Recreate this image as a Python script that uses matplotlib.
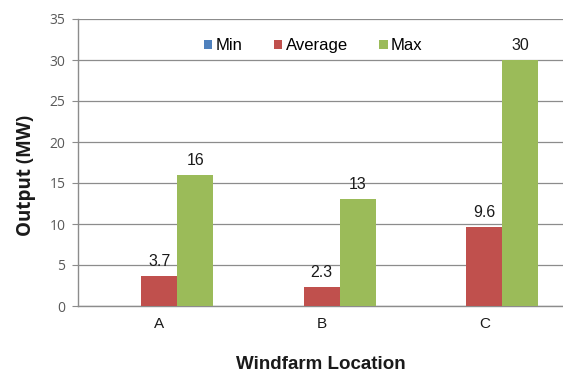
import matplotlib
matplotlib.use("Agg")
import matplotlib.pyplot as plt
import numpy as np

locations = ["A", "B", "C"]
series_names = ["Min", "Average", "Max"]
min_mw = [0, 0, 0]
avg_mw = [3.7, 2.3, 9.6]
max_mw = [16, 13, 30]
y_ticks = [0, 5, 10, 15, 20, 25, 30, 35]

colors = ["#4F81BD", "#C0504D", "#9BBB59"]
grid_color = "#8c8c8c"
tick_color = "#595959"

fig = plt.figure(figsize=(5.63, 3.72), dpi=100)
ax = fig.add_axes([78 / 563, (372 - 306) / 372, 1 - 78 / 563, (306 - 19) / 372])

x = np.arange(len(locations))
bar_w = 36 / 162.5
offsets = [-bar_w, 0, bar_w]
data = [min_mw, avg_mw, max_mw]

for vals, off, col, name in zip(data, offsets, colors, series_names):
    bars = ax.bar(x + off, vals, bar_w, color=col, label=name, zorder=3)
    for b, v in zip(bars, vals):
        if v > 0:
            ax.annotate(f"{v:g}", (b.get_x() + b.get_width() / 2, v),
                        xytext=(0, 5), textcoords="offset points",
                        ha="center", va="bottom", fontsize=11.5,
                        family="Liberation Sans", color="#1a1a1a")

ax.set_xlim(-0.5, -0.5 + 485 / 162.5)
ax.set_ylim(0, 35)
ax.set_yticks(y_ticks)
ax.set_xticks(x)
ax.set_xticklabels(locations, family="Liberation Sans", fontsize=11, color="#1a1a1a")
ax.set_yticklabels([str(t) for t in y_ticks], family="Open Sans", fontsize=10, color=tick_color)

ax.yaxis.grid(True, color=grid_color, linewidth=0.9, zorder=0)
ax.set_axisbelow(True)
for side in ["top", "right"]:
    ax.spines[side].set_visible(False)
for side in ["left", "bottom"]:
    ax.spines[side].set_color(grid_color)
    ax.spines[side].set_linewidth(1.0)
ax.tick_params(axis="y", length=4, color=grid_color, pad=5)
ax.tick_params(axis="x", length=0, pad=8)

ax.set_xlabel("Windfarm Location", family="Liberation Sans", fontweight="bold",
              fontsize=13.5, labelpad=18, color="#1a1a1a")
ax.set_ylabel("Output (MW)", family="Open Sans", fontweight="bold",
              fontsize=13.5, color="#1a1a1a")
ax.yaxis.set_label_coords(-42 / 485, 0.455)

leg = ax.legend(loc="upper center", bbox_to_anchor=(0.485, 0.985), ncol=3, frameon=False,
                handlelength=0.5, handleheight=0.5, handletextpad=0.2,
                columnspacing=1.9, prop={"family": "Liberation Sans", "size": 12})

fig.savefig("out.png", dpi=100, facecolor="white")
